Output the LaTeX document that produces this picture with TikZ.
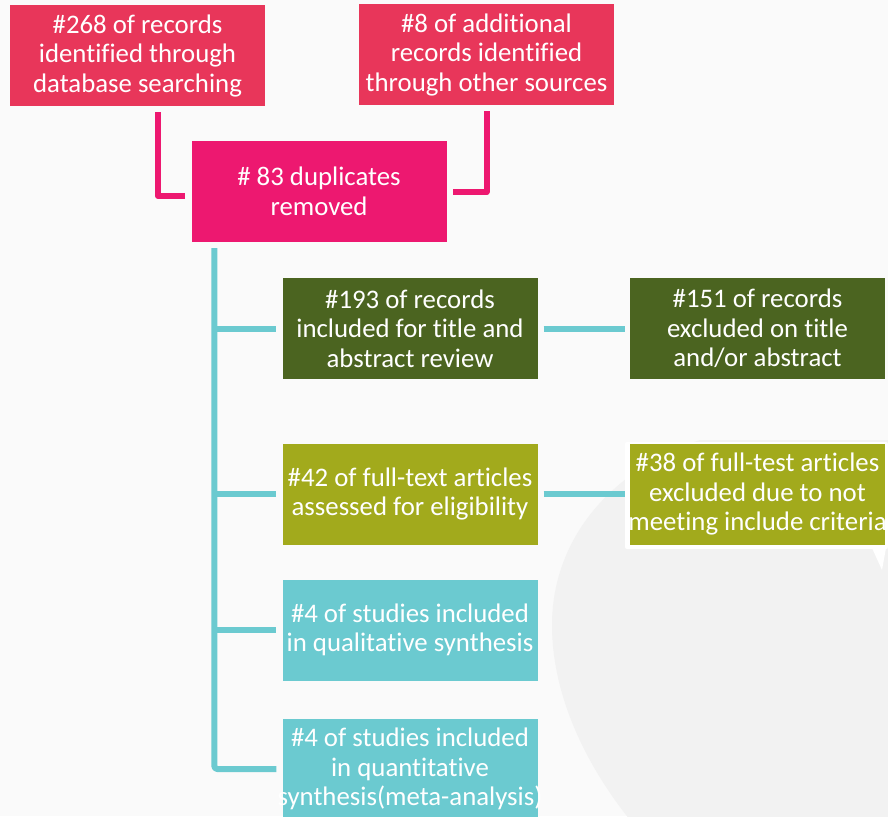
\documentclass[tikz,border=0pt]{standalone}
\usepackage{fontspec}
\setmainfont{Carlito}[Ligatures=NoCommon]
\usetikzlibrary{calc}
\definecolor{bgc}{HTML}{FAFAFA}
\definecolor{shapec}{HTML}{F2F2F2}
\definecolor{redbox}{HTML}{E8365A}
\definecolor{pinkbox}{HTML}{ED1870}
\definecolor{darkgreen}{HTML}{4B6420}
\definecolor{olive}{HTML}{A2AA1C}
\definecolor{tealc}{HTML}{6BCAD0}
\newcommand\cl[1]{\makebox[250pt]{#1}}
\tikzset{
  box/.style={minimum width=255pt, minimum height=101pt, inner sep=0pt, align=center,
    text=white, font=\fontsize{26.8}{29.5}\selectfont},
  pinkline/.style={draw=pinkbox, line width=6pt, line join=round},
  tealline/.style={draw=tealc, line width=6pt, line join=round},
}
\begin{document}
\begin{tikzpicture}[x=1pt,y=-1pt]
\useasboundingbox (0,0) rectangle (888,816);
\fill[bgc] (0,0) rectangle (888,816);
\begin{scope}
\clip (0,0) rectangle (888,816);
\fill[shapec] (888,440) -- (700,440) .. controls (610,470) and (552,540) .. (552,625)
  .. controls (552,700) and (590,770) .. (630,820) -- (888,820) -- cycle;
% white frame behind G
\fill[white, rounded corners=2pt] (625,442) rectangle (888,549);
\fill[white] (872,548) -- (886,548) -- (882,570) -- cycle;

\node[box, fill=redbox] (a) at (137.5,55.5) {\cl{\#268 of records}\\\cl{identified through}\\\cl{database searching}};
\node[box, fill=redbox] (b) at (486.5,54.5) {\cl{\#8 of additional}\\\cl{records identified}\\\cl{through other sources}};
\node[box, fill=pinkbox] (c) at (319,191.5) {\cl{\# 83 duplicates}\\\cl{removed}};
\node[box, fill=darkgreen] (d) at (410,328.5) {\cl{\#193 of records}\\\cl{included for title and}\\\cl{abstract review}};
\node[box, fill=darkgreen] (e) at (757.5,328.5) {\cl{\#151 of records}\\\cl{excluded on title}\\\cl{and/or abstract}};
\node[box, fill=olive] (f) at (410,494) {\cl{\#42 of full-text articles}\\\cl{assessed for eligibility}};
\node[box, fill=olive] (g) at (757.5,494) {\cl{\#38 of full-test articles}\\\cl{excluded due to not}\\\cl{meeting include criteria}};
\node[box, fill=tealc] (h) at (410,630) {\cl{\#4 of studies included}\\\cl{in qualitative synthesis}};
\node[box, fill=tealc] (i) at (410,769) {\cl{\#4 of studies included}\\\cl{in quantitative}\\\cl{synthesis(meta-analysis)}};

% pink connectors
\draw[pinkline] ([xshift=20.5pt,yshift=-6pt]a.south) |- ([xshift=-6pt,yshift=-4.5pt]c.west);
\draw[pinkline] ([yshift=-6pt]b.south) |- ([xshift=6pt,yshift=-0.5pt]c.east);

% teal trunk
\coordinate (t0) at ([xshift=23pt,yshift=-6pt]c.south west);
\draw[tealline, rounded corners=3pt] (t0) |- ([xshift=-6pt]i.west);
\draw[tealline] (t0 |- d.west) -- ([xshift=-6pt]d.west);
\draw[tealline] (t0 |- f.west) -- ([xshift=-6pt]f.west);
\draw[tealline] (t0 |- h.west) -- ([xshift=-6pt]h.west);
\draw[tealline] ([xshift=6pt]d.east) -- ([xshift=-5pt]e.west);
\draw[tealline] ([xshift=6pt]f.east) -- ([xshift=-5pt]g.west);
\end{scope}
\end{tikzpicture}
\end{document}
